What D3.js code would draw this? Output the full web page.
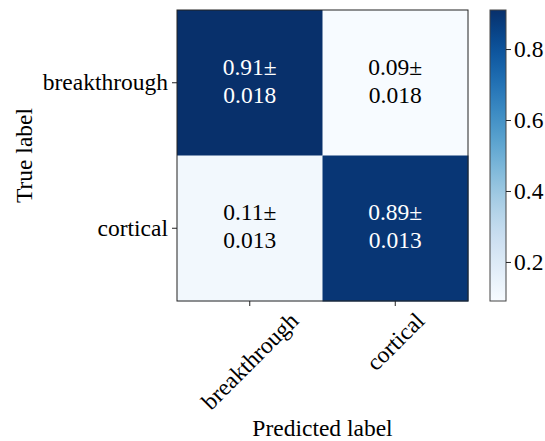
<!DOCTYPE html>
<html>
<head>
<meta charset="utf-8">
<script src="https://cdn.jsdelivr.net/npm/d3@7"></script>
<style>
  body { margin: 0; background: #fff; }
  svg text { font-family: "Liberation Serif", Tinos, "Times New Roman", Times, "DejaVu Serif", serif; }
</style>
</head>
<body>
<div id="chart"></div>
<script>
var classes = ["breakthrough", "cortical"];
var means = [[0.91, 0.09], [0.11, 0.89]];
var stds = [[0.018, 0.018], [0.013, 0.013]];
var cbarTicks = [0.2, 0.4, 0.6, 0.8];

var W = 545, H = 441;
var fs = 23.5;
var serif = '"Liberation Serif", Tinos, "Times New Roman", Times, "DejaVu Serif", serif';
var m = { left: 177, top: 10, size: 291 };
var cb = { x: 490, w: 16 };

var svg = d3.select("#chart").append("svg")
    .attr("width", W).attr("height", H)
    .style("font-family", serif);

var flat = [];
means.forEach(function (row, i) {
    row.forEach(function (v, j) {
        flat.push({ i: i, j: j, v: v, s: stds[i][j] });
    });
});
var vmin = d3.min(flat, function (d) { return d.v; });
var vmax = d3.max(flat, function (d) { return d.v; });
var color = d3.scaleSequential(d3.interpolateBlues).domain([vmin, vmax]);

var x = d3.scaleBand().domain(d3.range(classes.length)).range([m.left, m.left + m.size]);
var y = d3.scaleBand().domain(d3.range(classes.length)).range([m.top, m.top + m.size]);

// cells
svg.selectAll("rect.cell").data(flat).enter().append("rect")
    .attr("class", "cell")
    .attr("x", function (d) { return x(d.j); })
    .attr("y", function (d) { return y(d.i); })
    .attr("width", x.bandwidth() + 0.5)
    .attr("height", y.bandwidth() + 0.5)
    .attr("fill", function (d) { return color(d.v); });

var thresh = vmax / 2;
var cellText = svg.selectAll("text.cell").data(flat).enter().append("text")
    .attr("class", "cell")
    .attr("text-anchor", "middle")
    .attr("font-size", fs)
    .attr("fill", function (d) { return d.v > thresh ? "#fff" : "#000"; });
cellText.append("tspan")
    .attr("x", function (d) { return x(d.j) + x.bandwidth() / 2; })
    .attr("y", function (d) { return y(d.i) + y.bandwidth() / 2 - 8; })
    .text(function (d) { return d.v.toFixed(2) + "\u00b1"; });
cellText.append("tspan")
    .attr("x", function (d) { return x(d.j) + x.bandwidth() / 2; })
    .attr("y", function (d) { return y(d.i) + y.bandwidth() / 2 + 20; })
    .text(function (d) { return String(d.s); });

// frame
svg.append("rect")
    .attr("x", m.left).attr("y", m.top)
    .attr("width", m.size).attr("height", m.size)
    .attr("fill", "none").attr("stroke", "#222").attr("stroke-width", 1);

// y axis
var yAxis = svg.append("g")
    .attr("transform", "translate(" + m.left + ",0)")
    .call(d3.axisLeft(y).tickSize(5).tickPadding(4).tickFormat(function (i) { return classes[i]; }));
yAxis.attr("font-family", null);
yAxis.select(".domain").remove();
yAxis.selectAll("text").attr("font-size", fs).attr("fill", "#000");
yAxis.selectAll("line").attr("stroke", "#222");

// x axis, labels rotated 45 and centred under the tick
var xAxis = svg.append("g")
    .attr("transform", "translate(0," + (m.top + m.size) + ")")
    .call(d3.axisBottom(x).tickSize(5).tickFormat(function (i) { return classes[i]; }));
xAxis.attr("font-family", null);
xAxis.select(".domain").remove();
xAxis.selectAll("line").attr("stroke", "#222");
xAxis.selectAll("text")
    .attr("font-size", fs).attr("fill", "#000")
    .attr("text-anchor", "middle")
    .attr("dy", null)
    .attr("dominant-baseline", "central")
    .each(function () {
        var L = this.getComputedTextLength();
        var side = (L + fs * 0.8) / Math.SQRT2;
        var cy = 9 + side / 2;
        d3.select(this).attr("y", cy)
            .attr("transform", "rotate(-45,0," + cy + ")");
    });

// axis labels
svg.append("text")
    .attr("x", m.left + m.size / 2).attr("y", 436)
    .attr("text-anchor", "middle").attr("font-size", fs)
    .text("Predicted label");
svg.append("text")
    .attr("transform", "translate(32," + (m.top + m.size / 2) + ") rotate(-90)")
    .attr("text-anchor", "middle").attr("font-size", fs)
    .text("True label");

// colorbar
var grad = svg.append("defs").append("linearGradient")
    .attr("id", "cbgrad").attr("x1", 0).attr("y1", 1).attr("x2", 0).attr("y2", 0);
d3.range(0, 1.0001, 0.05).forEach(function (t) {
    grad.append("stop").attr("offset", t).attr("stop-color", color(vmin + t * (vmax - vmin)));
});
svg.append("rect")
    .attr("x", cb.x).attr("y", m.top)
    .attr("width", cb.w).attr("height", m.size)
    .attr("fill", "url(#cbgrad)")
    .attr("stroke", "#444").attr("stroke-width", 1);

var cy = d3.scaleLinear().domain([vmin, vmax]).range([m.top + m.size, m.top]);
var cAxis = svg.append("g")
    .attr("transform", "translate(" + (cb.x + cb.w) + ",0)")
    .call(d3.axisRight(cy).tickValues(cbarTicks).tickSize(5).tickPadding(3).tickFormat(d3.format(".1f")));
cAxis.attr("font-family", null);
cAxis.select(".domain").remove();
cAxis.selectAll("line").attr("stroke", "#222");
cAxis.selectAll("text").attr("font-size", fs).attr("fill", "#000");
</script>
</body>
</html>
